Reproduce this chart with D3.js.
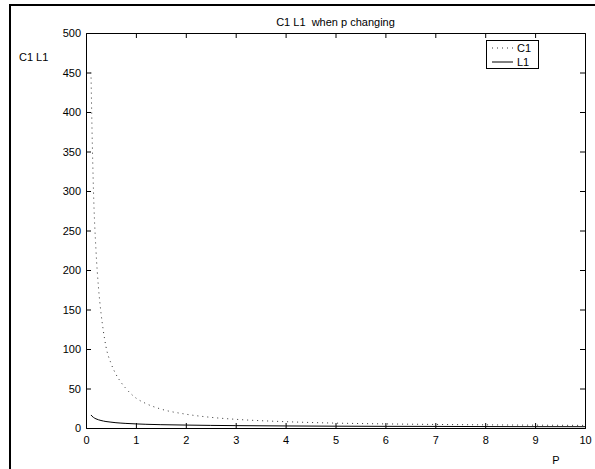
<!DOCTYPE html>
<html><head><meta charset="utf-8">
<script src="https://cdn.jsdelivr.net/npm/d3@7"></script>
<style>body{margin:0;background:#fff}svg{display:block}text{font-family:Arial,"Liberation Sans",Helvetica,sans-serif;fill:#000;white-space:pre}</style>
</head><body>
<script>
const pValues = [0.1,0.12,0.15,0.2,0.25,0.3,0.35,0.4,0.5,0.6,0.7,0.8,1.0,1.2,1.5,2,2.5,3,4,5,6,7,8,9,10];
const c1Values = [450,380,300,225,178,146,122,103,82,68,58,50,38,31,24,17.5,13.5,11,8,6.2,5.2,4.5,4,3.6,3.3];
const l1Values = [16.5,15,13.4,11.6,10.4,9.5,8.8,8.2,7.4,6.7,6.2,5.8,5.2,4.7,4.2,3.7,3.3,3.0,2.6,2.3,2.1,2.0,1.8,1.7,1.65];
const xTicks = [0,1,2,3,4,5,6,7,8,9,10];
const yTicks = [0,50,100,150,200,250,300,350,400,450,500];
const seriesNames = ["C1","L1"];
const titleText = "C1 L1  when p changing";
const xLabel = "P";
const yLabel = "C1 L1";

const W=595,H=469;
const m={l:86,r:10,t:33,b:41};
const svg=d3.select("body").append("svg").attr("width",W).attr("height",H);
svg.append("rect").attr("x",10).attr("y",5).attr("width",W+20).attr("height",H+20)
  .attr("fill","none").attr("stroke","#000").attr("stroke-width",2);

const x=d3.scaleLinear().domain([0,10]).range([m.l,W-m.r]);
const y=d3.scaleLinear().domain([0,500]).range([H-m.b,m.t]);
const fs=11;
const tl=5;

const gB=svg.append("g").attr("transform",`translate(0,${y(0)})`)
  .call(d3.axisBottom(x).tickValues(xTicks).tickSize(-tl).tickPadding(8).tickFormat(d3.format("d")));
const gT=svg.append("g").attr("transform",`translate(0,${y(500)})`)
  .call(d3.axisTop(x).tickValues(xTicks).tickSize(-tl).tickFormat(""));
const gL=svg.append("g").attr("transform",`translate(${x(0)},0)`)
  .call(d3.axisLeft(y).tickValues(yTicks).tickSize(-tl).tickPadding(5).tickFormat(d3.format("d")));
const gR=svg.append("g").attr("transform",`translate(${x(10)},0)`)
  .call(d3.axisRight(y).tickValues(yTicks).tickSize(-tl).tickFormat(""));
[gB,gT,gL,gR].forEach(g=>{
  g.select(".domain").attr("stroke","#000").attr("stroke-width",1);
  g.selectAll(".tick line").attr("stroke","#000");
  g.selectAll("text").attr("font-size",fs).attr("font-family","Arial,'Liberation Sans',sans-serif");
});
gB.selectAll(".tick line").filter(d=>d===0||d===10).remove();
gT.selectAll(".tick line").filter(d=>d===0||d===10).remove();
gL.selectAll(".tick line").filter(d=>d===0||d===500).remove();
gR.selectAll(".tick line").filter(d=>d===0||d===500).remove();

const line=d3.line().x((d,i)=>x(pValues[i])).y(d=>y(d)).curve(d3.curveMonotoneX);
svg.append("path").datum(c1Values).attr("d",line).attr("fill","none")
  .attr("stroke","#333").attr("stroke-width",1).attr("stroke-dasharray","1,4");
svg.append("path").datum(l1Values).attr("d",line).attr("fill","none")
  .attr("stroke","#000").attr("stroke-width",1);

svg.append("text").attr("x",(x(0)+x(10))/2).attr("y",26).attr("text-anchor","middle").attr("font-size",fs)
  .attr("xml:space","preserve").text(titleText);
svg.append("text").attr("x",19).attr("y",61).attr("font-size",fs).text(yLabel);
svg.append("text").attr("x",556).attr("y",464).attr("text-anchor","middle").attr("font-size",fs).text(xLabel);

const lg=svg.append("g");
lg.append("rect").attr("x",486.5).attr("y",40.5).attr("width",52).attr("height",28)
  .attr("fill","#fff").attr("stroke","#000").attr("stroke-width",1);
const dashes=["1,4",null];
seriesNames.forEach((n,i)=>{
  const yy=48+i*14;
  lg.append("line").attr("x1",492).attr("x2",513).attr("y1",yy).attr("y2",yy)
    .attr("stroke",i===0?"#333":"#000").attr("stroke-dasharray",dashes[i]);
  lg.append("text").attr("x",517).attr("y",yy+4).attr("font-size",fs).text(n);
});
</script>
</body></html>
